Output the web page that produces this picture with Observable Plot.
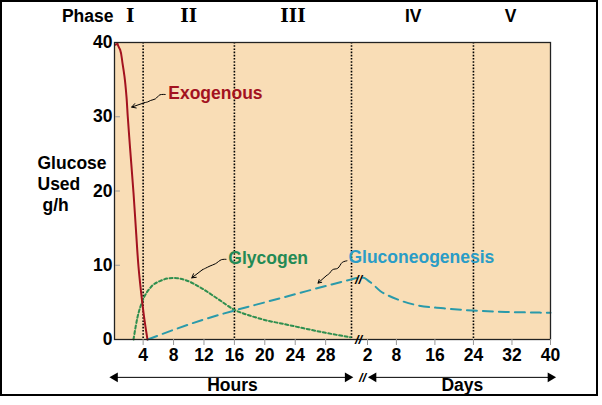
<!DOCTYPE html>
<html><head><meta charset="utf-8">
<script src="https://cdn.jsdelivr.net/npm/d3@7"></script>
<script src="https://cdn.jsdelivr.net/npm/@observablehq/plot@0.6"></script>
<style>
body{margin:0;background:#fff;}
#wrap{position:relative;width:602px;height:405px;}
#border{position:absolute;left:0;top:0;width:598px;height:396px;box-sizing:border-box;border:2px solid #000;pointer-events:none;}
svg{position:absolute;left:0;top:0;}
</style></head><body><div id="wrap"><div id="border"></div></div>
<script>
// ---- data (time in hours; day values converted to hours with *24) ----
const hourTicks = [4, 8, 12, 16, 20, 24, 28];
const dayTicks = [2, 8, 16, 24, 32, 40];
const yTicks = [0, 10, 20, 30, 40];

const exoHours  = [0.33, 0.63, 0.98, 1.29, 1.55, 1.81, 1.98, 2.17, 2.34, 2.73, 3.06, 3.39, 3.85, 4.18, 4.57];
const exoValues = [39.7, 39.85, 39.0, 37.2, 35.4, 32.7, 30.0, 27.3, 25.0, 19.8, 14.7, 9.8, 5.3, 2.6, 0];

const glyHours  = [2.73, 3.26, 3.92, 4.97, 6.28, 7.99, 9.57, 11.54, 13.78, 16.0, 18.1, 20.1, 22.45, 24.7, 27.99, 31.27];
const glyValues = [0, 3.0, 5.2, 7.0, 7.9, 8.3, 8.0, 7.0, 5.5, 4.0, 3.2, 2.6, 2.1, 1.6, 0.9, 0.3];

const gngHours  = [4.6, 8, 12, 16, 20, 24, 28, 31.4, 38, 44];
const gngHourValues = [0, 1.3, 2.7, 3.9, 5.0, 6.1, 7.2, 8.1, 8.3, 8.3];
const gngDays   = [2, 3, 4.7, 6.4, 8.2, 12.4, 17.8, 23.8, 31.7, 40];
const gngDayValues = [8.0, 7.5, 6.5, 5.9, 5.4, 4.6, 4.2, 3.9, 3.7, 3.6];

const phaseNames = ["I", "II", "III", "IV", "V"];
const phaseCenters = [2.3, 10, 23.7, 11.5 * 24, 31.7 * 24];
const phaseBoundaries = [4, 16, 31.4, 24 * 24];
const breakHours = 31.4;

const TAN = "#f9ddb6", RED = "#a3121f", GREEN = "#238a55", GREEN_LINE = "#2f8f4f", BLUE = "#2a9cc6", BLUE_LINE = "#2a9aaa";

const toRows = (xs, ys) => xs.map((x, i) => ({h: x, v: ys[i]}));
const exo = toRows(exoHours, exoValues);
const gly = toRows(glyHours, glyValues);
const gng = toRows(gngHours.concat(gngDays.map(d => d * 24)), gngHourValues.concat(gngDayValues));
const phases = phaseNames.map((n, i) => ({n, h: phaseCenters[i], roman: i < 3}));

// annotation squiggles: label anchor, a short zigzag path and the arrow target (data coordinates)
const annotations = [
  {label: "Exogenous", color: RED, lx: 7.3, ly: 33.2,
   path: [[6.9, 33.0], [6.2, 32.95], [5.6, 32.4], [5.0, 32.2], [4.6, 32.0], [4.2, 31.9]], tip: [2.5, 31.3]},
  {label: "Glycogen", color: GREEN, lx: 15.2, ly: 10.9,
   path: [[14.9, 10.8], [14.3, 10.75], [13.5, 10.2], [12.8, 9.9], [12.2, 9.6], [11.8, 9.4]], tip: [10.4, 8.3]},
  {label: "Gluconeogenesis", color: BLUE, lx: 31.0, ly: 11.0,
   path: [[30.8, 10.6], [30.2, 10.4], [29.6, 9.6], [28.9, 9.4], [28.5, 8.9], [28.1, 8.6]], tip: [27.0, 7.6]}
];

const axisRows = [
  {label: "Hours", a: 0.3, b: 30.9, mid: 15.75},
  {label: "Days", a: 3.25 * 24, b: 40 * 24, mid: 21.7 * 24}
];
const AXIS_ROW_Y = -5.1;

const font = "'Liberation Sans', Arial, Helvetica, sans-serif";

const marks = [
  Plot.frame({fill: TAN, stroke: null}),
  Plot.ruleX(phaseBoundaries, {stroke: "#000", strokeWidth: 1.6, strokeDasharray: "1.6,1.6"}),
  Plot.line(gly, {x: "h", y: "v", stroke: GREEN_LINE, strokeWidth: 2, strokeDasharray: "3,2.5", curve: "monotone-x"}),
  Plot.line(gng, {x: "h", y: "v", stroke: BLUE_LINE, strokeWidth: 2, strokeDasharray: "10,6", curve: "monotone-x"}),
  Plot.line(exo, {x: "h", y: "v", stroke: RED, strokeWidth: 2, curve: "monotone-y"}),
  Plot.frame({stroke: "#222", strokeWidth: 1.3}),
  Plot.axisY({ticks: yTicks, tickSize: 0, tickPadding: 2, fontSize: 17.5, fontWeight: "bold", label: null}),
  Plot.link(yTicks.slice(1, 4), {x1: 0.3, x2: 0.95, y1: d => d, y2: d => d, stroke: "#999", strokeWidth: 1}),
  Plot.axisX({ticks: hourTicks.concat(dayTicks.map(d => d * 24)),
    tickFormat: d => d <= breakHours ? d : d / 24,
    tickSize: 6, tickPadding: 3, stroke: "#999", fill: "#000", fontSize: 17.5, fontWeight: "bold", label: null}),
  // phase labels
  Plot.text(["Phase"], {frameAnchor: "top-left", dx: -1, dy: -26, textAnchor: "end", lineAnchor: "middle", fontSize: 17.5, fontWeight: "bold"}),
  Plot.text(phases.filter(p => p.roman), {x: "h", y: 40, dy: -26, text: "n", fontSize: 18, fontWeight: "bold", fontFamily: "'DejaVu Serif', 'Liberation Serif', serif", ariaLabel: "roman"}),
  Plot.text(phases.filter(p => !p.roman), {x: "h", y: 40, dy: -26, text: "n", fontSize: 17.5, fontWeight: "bold"}),
  // y label
  Plot.text(["Glucose\nUsed"], {frameAnchor: "left", dx: -77, dy: -18, lineHeight: 1.2, textAnchor: "start", fontSize: 17.5, fontWeight: "bold"}),
  Plot.text(["g/h"], {frameAnchor: "left", dx: -72, dy: 14.5, textAnchor: "start", fontSize: 17.5, fontWeight: "bold"}),
  // break marks
  Plot.text([{h: 38.7, v: 0}, {h: 38.7, v: 8.0}, {h: 42.9, v: AXIS_ROW_Y}], {x: "h", y: "v", text: () => "//", fontSize: 13, fontWeight: "bold", fontStyle: "italic", fill: "#000"}),
  // bottom hours/days arrows
  Plot.link(axisRows, {x1: "a", x2: "b", y1: AXIS_ROW_Y, y2: AXIS_ROW_Y, stroke: "#000", strokeWidth: 1}),
  Plot.dot(axisRows, {x: "a", y: AXIS_ROW_Y, symbol: "triangle", r: 3.6, fill: "#000", stroke: null, rotate: -90}),
  Plot.dot(axisRows, {x: "b", y: AXIS_ROW_Y, symbol: "triangle", r: 3.6, fill: "#000", stroke: null, rotate: 90}),
  Plot.text(axisRows, {x: "mid", y: 0, dy: 46, text: "label", fontSize: 17.5, fontWeight: "bold"})
];

for (const a of annotations) {
  const pts = a.path.map(([h, v]) => ({h, v}));
  const last = a.path[a.path.length - 1];
  marks.push(Plot.line(pts, {x: "h", y: "v", stroke: "#000", strokeWidth: 1, curve: "catmull-rom"}));
  marks.push(Plot.arrow([{x1: last[0], y1: last[1], x2: a.tip[0], y2: a.tip[1]}], {x1: "x1", y1: "y1", x2: "x2", y2: "y2", stroke: "#000", strokeWidth: 1, headLength: 7}));
  marks.push(Plot.text([a], {x: "lx", y: "ly", text: "label", textAnchor: "start", fill: a.color, fontSize: 17.5, fontWeight: "bold"}));
}

const chart = Plot.plot({
  width: 602, height: 405,
  marginLeft: 114, marginRight: 52, marginTop: 42, marginBottom: 66,
  style: {fontFamily: font, background: "transparent", color: "#000", overflow: "visible"},
  x: {type: "linear", domain: [0.3, breakHours, 48, 960], range: [114.5, 351, 367, 550]},
  y: {domain: [0, 40]},
  marks
});
// let the serifs of the roman numerals join into bars, as in the original
d3.select(chart).selectAll('g[aria-label="roman"] text').style("letter-spacing", "-1.5px");
document.getElementById("wrap").prepend(chart);
</script>
</body></html>
